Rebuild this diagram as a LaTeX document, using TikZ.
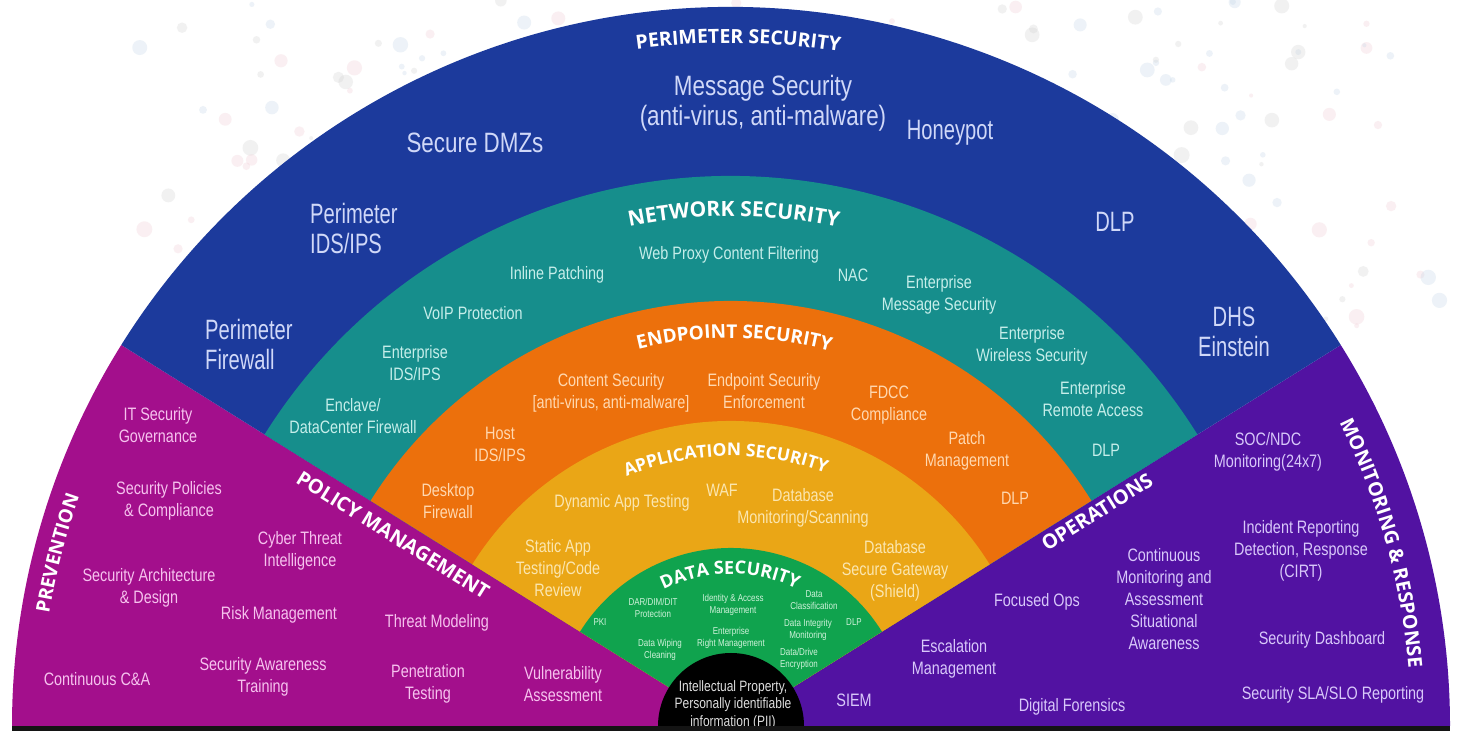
\documentclass[tikz,border=0pt]{standalone}
\usepackage{fontspec}
\usetikzlibrary{decorations.text,calc}
\newfontfamily\condA{Liberation Sans}[FakeStretch=0.72]
\newfontfamily\condB{Liberation Sans}[FakeStretch=0.8]
\newfontfamily\titlef{Open Sans}
\definecolor{cBlue}{HTML}{1C3A9C}
\definecolor{cTeal}{HTML}{168E8C}
\definecolor{cOra}{HTML}{EC700C}
\definecolor{cYel}{HTML}{EAA616}
\definecolor{cGrn}{HTML}{10A34E}
\definecolor{cMag}{HTML}{A30F8C}
\definecolor{cPur}{HTML}{5212A2}
\definecolor{tBlue}{HTML}{D0D8F8}
\definecolor{tTeal}{HTML}{C6EEEA}
\definecolor{tOra}{HTML}{FFD8B0}
\definecolor{tYel}{HTML}{FBE6B0}
\definecolor{tGrn}{HTML}{CFF2DA}
\definecolor{tMag}{HTML}{F6C2EE}
\definecolor{tPur}{HTML}{D8C8FA}
\definecolor{tBlk}{HTML}{DDDDDD}
\definecolor{dotA}{HTML}{BFD3E6}
\definecolor{dotB}{HTML}{F0C8D2}
\definecolor{dotC}{HTML}{D0D0D0}
\pgfmathdeclarerandomlist{dotcols}{{dotA}{dotB}{dotC}}
\newcommand\arcTitle[5]{%
  \pgfmathsetmacro\arcA{#3+#4}%
  \pgfmathsetmacro\arcB{#3-#4}%
  \path[decorate,decoration={text along path,text align=center,text color=white,
      text={|\titlef\bfseries\fontsize{#1}{#1}\selectfont|#5}}]
      ($(C)+(\arcA:#2)$) arc[start angle=\arcA,end angle=\arcB,radius=#2];
}
\tikzset{
  txt/.style={align=center, inner sep=0pt},
  bluet/.style={txt, text=tBlue, font=\condA\fontsize{28}{30}\selectfont},
  bluew/.style={txt, text=tBlue, font=\condB\fontsize{28}{30}\selectfont},
  tealt/.style={txt, text=tTeal, font=\condB\fontsize{18}{22}\selectfont},
  orat/.style={txt, text=tOra, font=\condB\fontsize{18}{22}\selectfont},
  yelt/.style={txt, text=tYel, font=\condB\fontsize{18}{22}\selectfont},
  grnt/.style={txt, text=tGrn, font=\condB\fontsize{10}{12}\selectfont},
  blkt/.style={txt, text=tBlk, font=\condB\fontsize{15}{17.5}\selectfont},
  magt/.style={txt, text=tMag, font=\condB\fontsize{18}{22}\selectfont},
  purt/.style={txt, text=tPur, font=\condB\fontsize{18}{22}\selectfont},
  ttl/.style={inner sep=0pt, text=white, font=\titlef\bfseries\fontsize{20}{20}\selectfont},
}
\begin{document}
\begin{tikzpicture}[x=1pt,y=1pt]
\useasboundingbox (0,0) rectangle (1461,733);
\fill[white] (0,0) rectangle (1461,733);
\coordinate (C) at (731,7);
% faint background dots
\pgfmathsetseed{4}
\foreach \i in {1,...,240}{
  \pgfmathsetmacro\dotx{120+rnd*1320}
  \pgfmathsetmacro\doty{400+rnd*333}
  \pgfmathsetmacro\dotr{2+rnd*6}
  \pgfmathrandomitem\dotc{dotcols}
  \fill[\dotc, opacity=.28] (\dotx,\doty) circle[radius=\dotr];
}
% sectors
\fill[cMag] (C) -- +(180:719) arc[start angle=180,end angle=148,radius=719] -- cycle;
\fill[cPur] (C) -- +(0:719) arc[start angle=0,end angle=32,radius=719] -- cycle;
\fill[cBlue] (C) -- +(32:719) arc[start angle=32,end angle=148,radius=719] -- cycle;
\fill[cTeal] (C) -- +(32:550) arc[start angle=32,end angle=148,radius=550] -- cycle;
\fill[cOra] (C) -- +(32:425) arc[start angle=32,end angle=148,radius=425] -- cycle;
\fill[cYel] (C) -- +(32:305) arc[start angle=32,end angle=148,radius=305] -- cycle;
\fill[cGrn] (C) -- +(32:178) arc[start angle=32,end angle=148,radius=178] -- cycle;
\fill[black] (C) -- +(0:73) arc[start angle=0,end angle=180,radius=73] -- cycle;

% ring titles
\arcTitle{19.5}{683}{89.4}{15}{PERIMETER SECURITY}
\arcTitle{21}{510}{89.7}{20}{NETWORK SECURITY}
\arcTitle{19}{388}{89.5}{25}{ENDPOINT SECURITY}
\arcTitle{17.5}{270}{91.1}{35}{APPLICATION SECURITY}
\arcTitle{18}{152}{90.4}{45}{DATA SECURITY}
\arcTitle{19}{691}{165.6}{20}{PREVENTION}
\arcTitle{19.5}{680}{15.7}{20}{MONITORING {\&} RESPONSE}

% wedge titles
\node[ttl, rotate=-32] (pmT) at (393,198) {POLICY MANAGEMENT};
\node[ttl, rotate=32] (opT) at (1097,221) {OPERATIONS};

% perimeter
\node[bluew] (ps1) at (763,630) {Message Security\\(anti-virus, anti-malware)};
\node[bluew] (ps2) at (475,590) {Secure DMZs};
\node[bluet] (ps3) at (950,600) {Honeypot};
\node[bluet, anchor=west, align=left] (ps4) at (310,505) {Perimeter\\IDS/IPS};
\node[bluet] (ps5) at (1115,511) {DLP};
\node[bluet, anchor=west, align=left] (ps6) at (205,389) {Perimeter\\Firewall};
\node[bluet] (ps7) at (1234,401) {DHS\\Einstein};

% network
\node[tealt] (ns1) at (729,478) {Web Proxy Content Filtering};
\node[tealt] (ns2) at (557,458) {Inline Patching};
\node[tealt] (ns3) at (853,458) {NAC};
\node[tealt] (ns4) at (939,438) {Enterprise\\Message Security};
\node[tealt] (ns5) at (473,420) {VoIP Protection};
\node[tealt] (ns6) at (415,370) {Enterprise\\IDS/IPS};
\node[tealt] (ns7) at (1032,387) {Enterprise\\Wireless Security};
\node[tealt] (ns8) at (353,317) {Enclave/\\DataCenter Firewall};
\node[tealt] (ns9) at (1093,334) {Enterprise\\Remote Access};
\node[tealt] (ns10) at (1106,283) {DLP};

% endpoint
\node[orat] (es1) at (611,340) {Content Security\\{[}anti-virus, anti-malware{]}};
\node[orat] (es2) at (764,342) {Endpoint Security\\Enforcement};
\node[orat] (es3) at (889,328) {FDCC\\Compliance};
\node[orat] (es4) at (500,289) {Host\\IDS/IPS};
\node[orat] (es5) at (967,282) {Patch\\Management};
\node[orat] (es6) at (448,232) {Desktop\\Firewall};
\node[orat] (es7) at (1015,235) {DLP};

% application
\node[yelt] (as1) at (622,230) {Dynamic App Testing};
\node[yelt] (as2) at (722,243) {WAF};
\node[yelt] (as3) at (803,225) {Database\\Monitoring/Scanning};
\node[yelt] (as4) at (558,165) {Static App\\Testing/Code\\Review};
\node[yelt] (as5) at (895,162) {Database\\Secure Gateway\\(Shield)};

% data
\node[grnt] (ds1) at (653,125) {DAR/DIM/DIT\\Protection};
\node[grnt] (ds2) at (733,128) {Identity \& Access\\Management};
\node[grnt] (ds3) at (814,133) {Data\\Classification};
\node[grnt] (ds4) at (600,111) {PKI};
\node[grnt] (ds5) at (854,111) {DLP};
\node[grnt] (ds6) at (808,103) {Data Integrity\\Monitoring};
\node[grnt] (ds7) at (660,83) {Data Wiping\\Cleaning};
\node[grnt] (ds8) at (731,95) {Enterprise\\Right Management};
\node[grnt] (ds9) at (799,74) {Data/Drive\\Encryption};

% core
\node[blkt] (core) at (733,28) {Intellectual Property,\\Personally identifiable\\information (PII)};

% prevention / policy
\node[magt] (pm1) at (158,308) {IT Security\\Governance};
\node[magt] (pm2) at (169,232) {Security Policies\\\& Compliance};
\node[magt] (pm3) at (300,182) {Cyber Threat\\Intelligence};
\node[magt] (pm4) at (149,145) {Security Architecture\\\& Design};
\node[magt] (pm5) at (279,118) {Risk Management};
\node[magt] (pm6) at (437,110) {Threat Modeling};
\node[magt] (pm7) at (97,54) {Continuous C\&A};
\node[magt] (pm8) at (263,56) {Security Awareness\\Training};
\node[magt] (pm9) at (428,49) {Penetration\\Testing};
\node[magt] (pm10) at (563,49) {Vulnerability\\Assessment};

% operations / monitoring
\node[purt] (mr1) at (1268,281) {SOC/NDC\\Monitoring(24x7)};
\node[purt] (mr2) at (1301,182) {Incident Reporting\\Detection, Response\\(CIRT)};
\node[purt] (mr3) at (1164,134) {Continuous\\Monitoring and\\Assessment\\Situational\\Awareness};
\node[purt] (mr4) at (1037,131) {Focused Ops};
\node[purt] (mr5) at (1322,93) {Security Dashboard};
\node[purt] (mr6) at (954,74) {Escalation\\Management};
\node[purt] (mr7) at (1072,26) {Digital Forensics};
\node[purt] (mr8) at (1333,38) {Security SLA/SLO Reporting};
\node[purt] (mr9) at (854,33) {SIEM};

% bottom shadow bar
\fill[black!92] (12,1.5) rectangle (1450,7);
\end{tikzpicture}
\end{document}
